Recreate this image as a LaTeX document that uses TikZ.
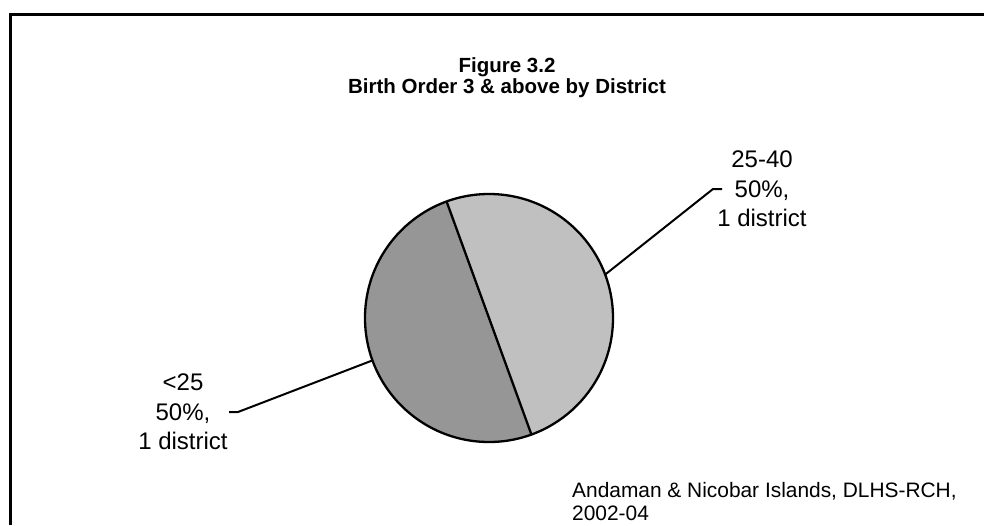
\documentclass[tikz,border=0pt]{standalone}
\usepackage{fontspec}
\setmainfont{Liberation Sans}
\definecolor{lightslice}{HTML}{C0C0C0}
\definecolor{darkslice}{HTML}{969696}
\tikzset{
  frame/.style={line width=3pt},
  slice/.style={draw=black, line width=2.3pt, line join=round},
  leader/.style={line width=2pt},
  lbl/.style={align=center, inner sep=0pt, font=\fontsize{24}{29.5}\selectfont},
  ttl/.style={align=center, inner sep=0pt, font=\fontsize{20.5}{21}\selectfont\bfseries},
  note/.style={align=left, inner sep=0pt, anchor=north west, font=\fontsize{20.9}{23}\selectfont}
}
\begin{document}
\begin{tikzpicture}[x=1pt,y=-1pt]
\useasboundingbox (0,0) rectangle (984,525);
\fill[white] (0,0) rectangle (984,525);
\draw[frame] (10,525) -- (10,14) -- (984,14);
\coordinate (c) at (489,318);
\fill[lightslice] (c) -- ++(-110:124) arc[start angle=-110, end angle=70, radius=124] -- cycle;
\fill[darkslice] (c) -- ++(70:124) arc[start angle=70, end angle=250, radius=124] -- cycle;
\draw[slice] (c) circle[radius=124];
\draw[slice] (c) ++(-110:124) coordinate (s1) -- (c) -- ++(70:124) coordinate (s2);
\node[ttl] (title) at (507,78) {Figure 3.2\\Birth Order 3 \& above by District};
\node[lbl] (lr) at (762,189) {25-40\\50\%,\\1 district};
\node[lbl] (ll) at (183,412) {<25\\50\%,\\1 district};
\coordinate (rb) at (713,189);
\coordinate (re) at (722,189);
\coordinate (lb) at (238,412);
\coordinate (le) at (229,412);
\draw[leader] (c) ++(-20.5:124) coordinate (rp) (rp) -- (rb) -- (re);
\draw[leader] (c) ++(160:124) coordinate (lp) (lp) -- (lb) -- (le);
\node[note] (src) at (572,482) {Andaman \& Nicobar Islands, DLHS-RCH,\\2002-04};
\end{tikzpicture}
\end{document}
